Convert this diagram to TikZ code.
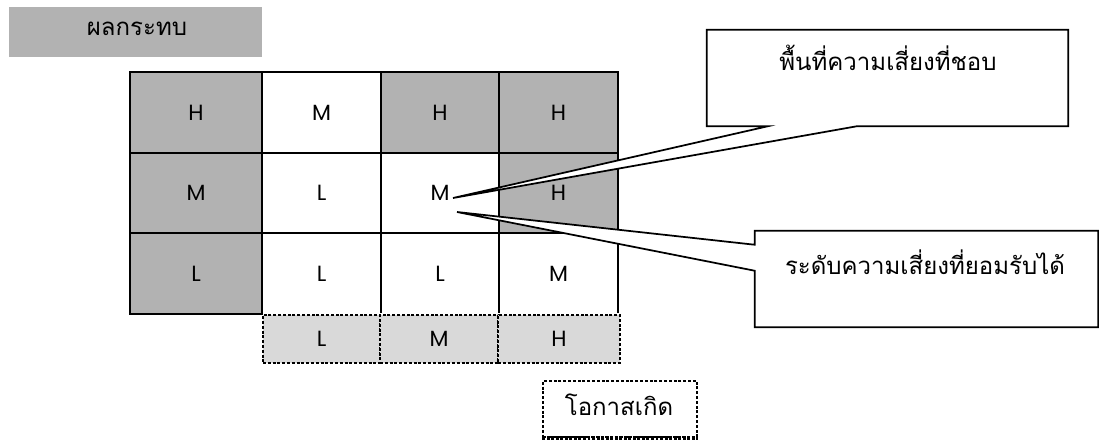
\documentclass[tikz,border=0pt]{standalone}
\usepackage{fontspec}
\newfontfamily\thai[Script=Thai]{Loma}
\newfontfamily\lat{Poppins}
\usetikzlibrary{calc}
\definecolor{cellgray}{HTML}{B2B2B2}
\definecolor{axisgray}{HTML}{D9D9D9}
\begin{document}
\begin{tikzpicture}[x=0.75pt,y=-0.75pt,
  cell/.style={draw=black, line width=1.5pt, inner sep=0pt, minimum height=60.5pt,
    font=\lat\fontsize{16.5}{18}\selectfont},
  hi/.style={cell, fill=cellgray},
  lo/.style={cell, fill=white},
  cA/.style={minimum width=99pt},
  cB/.style={minimum width=89.25pt},
  cC/.style={minimum width=88.5pt},
  cD/.style={minimum width=89.25pt},
  axiscell/.style={draw=black, dash pattern=on 2.2pt off 1.4pt, line width=1.2pt, fill=axisgray,
    inner sep=0pt, minimum height=36pt, font=\lat\fontsize{16.5}{18}\selectfont},
  callout/.style={draw=black, fill=white, line width=1.3pt, line join=miter},
  thaitext/.style={inner sep=0pt, font=\thai\fontsize{18}{22}\selectfont},
  labelbox/.style={fill=cellgray, inner sep=0pt}
]
\useasboundingbox (0,0) rectangle (1099,439);

% impact label
\node[labelbox, minimum width=189.75pt, minimum height=37.5pt] (impact) at (135.5,32) {};
\node[thaitext] (impacttxt) at (137,29) {ผลกระทบ};

% grid row 1
\node[hi,cA] (r1c1) at (196,112.5) {H};
\node[lo,cB] (r1c2) at (321.5,112.5) {M};
\node[hi,cC] (r1c3) at (440,112.5) {H};
\node[hi,cD] (r1c4) at (558.5,112.5) {H};
% row 2
\node[hi,cA] (r2c1) at (196,193) {M};
\node[lo,cB] (r2c2) at (321.5,193) {L};
\node[lo,cC] (r2c3) at (440,193) {M};
\node[hi,cD] (r2c4) at (558.5,193) {H};
% row 3
\node[hi,cA] (r3c1) at (196,273.5) {L};
\node[lo,cB] (r3c2) at (321.5,273.5) {L};
\node[lo,cC] (r3c3) at (440,273.5) {L};
\node[lo,cD] (r3c4) at (558.5,273.5) {M};

% likelihood axis cells
\fill[white] (263,312.5) rectangle (619,316);
\node[axiscell, minimum width=87.75pt] (ax1) at (321.5,339) {L};
\node[axiscell, minimum width=88.5pt] (ax2) at (439,339) {M};
\node[axiscell, minimum width=91.5pt] (ax3) at (559,339) {H};

% likelihood label
\node[draw=black, dash pattern=on 2.2pt off 1.4pt, line width=1.2pt, inner sep=0pt,
      minimum width=115.5pt, minimum height=42pt] (likely) at (620,409) {};
\draw[line width=2.6pt, dash pattern=on 2.2pt off 1.2pt] (likely.south west) -- (likely.south east);
\node[thaitext] (likelytxt) at (619,405) {โอกาสเกิด};

% callout 1
\coordinate (tip1) at (453,198);
\node[inner sep=0pt, minimum width=270.75pt, minimum height=72pt] (box1) at (887.5,78) {};
\draw[callout] (box1.south west) -- (box1.north west) -- (box1.north east) -- (box1.south east)
  -- ($(box1.south west)+(150,0)$) -- (tip1) -- ($(box1.south west)+(61,0)$) -- cycle;
\node[thaitext] (box1txt) at (888,58) {พื้นที่ความเสี่ยงที่ชอบ};

% callout 2
\coordinate (tip2) at (457,212);
\node[inner sep=0pt, minimum width=257.25pt, minimum height=72pt] (box2) at (926.5,279) {};
\draw[callout] (box2.north west) -- (box2.north east) -- (box2.south east) -- (box2.south west)
  -- ($(box2.north west)+(0,40)$) -- (tip2) -- ($(box2.north west)+(0,14)$) -- cycle;
\node[thaitext] (box2txt) at (925,262) {ระดับความเสี่ยงที่ยอมรับได้};
\end{tikzpicture}
\end{document}
